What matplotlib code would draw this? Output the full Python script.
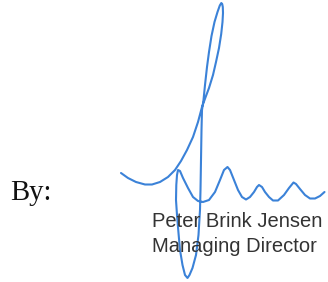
import matplotlib
matplotlib.use("Agg")
import matplotlib.pyplot as plt

# Signature stroke (pixel coords, y downward)
sig_x = [121, 128, 136, 145, 152, 160, 168, 175, 181, 187, 193, 198, 202, 206, 209, 213, 216, 219, 221.2, 222.5, 223, 222.8,
         222.2, 221.3, 219.8, 217.5, 214.5, 211.5, 209, 207, 205, 203.5, 202, 201.5, 201, 200.5, 200, 198.5, 196, 192.5, 189.5, 187.5,
         185, 182.5, 180, 178.5, 177, 176, 176.3, 177, 178, 180, 183, 188, 193, 198, 203, 209, 215, 220, 224,
         227.5, 230, 234, 238, 242, 246, 250, 254, 257, 259, 262, 265, 269, 273, 278, 284, 289, 293.5, 296, 300,
         305, 310, 315, 320, 324.5]
sig_y = [173, 178, 182, 184.5, 184.5, 182, 177, 170, 161, 150, 137, 122, 107, 96, 88, 75, 62, 48, 34, 22, 13, 7,
         4, 3, 5.5, 12, 22, 36, 52, 67, 85, 100, 110, 130, 160, 190, 210, 235, 255, 268, 275, 278,
         275, 265, 250, 233, 215, 200, 185, 175, 170, 171, 178, 188, 197, 201, 202, 200, 192, 180, 170,
         167, 170, 180, 190, 197, 199.5, 197, 192, 187, 185, 187, 192, 197, 200.5, 200.5, 195, 188, 182.5, 184, 189,
         195, 198.5, 198.5, 196, 192]

label_by = "By:"
name_lines = ["Peter Brink Jensen", "Managing Director"]

W, H = 328, 282
fig = plt.figure(figsize=(W / 100, H / 100), dpi=100)
ax = fig.add_axes([0, 0, 1, 1])
ax.set_xlim(0, W)
ax.set_ylim(H, 0)
ax.axis("off")

ax.text(10, 200, label_by, fontsize=20.7, family="Liberation Serif", color="#111111",
        ha="left", va="baseline")
ax.text(152.5, 226.7, name_lines[0], fontsize=14.5, family="Liberation Sans", color="#333333",
        ha="left", va="baseline")
ax.text(152.5, 251.7, name_lines[1], fontsize=14.5, family="Liberation Sans", color="#333333",
        ha="left", va="baseline")

ax.plot(sig_x, sig_y, color="#3b82d8", lw=1.5, solid_joinstyle="round", solid_capstyle="round",
        antialiased=True)

fig.savefig("out.png", dpi=100)
